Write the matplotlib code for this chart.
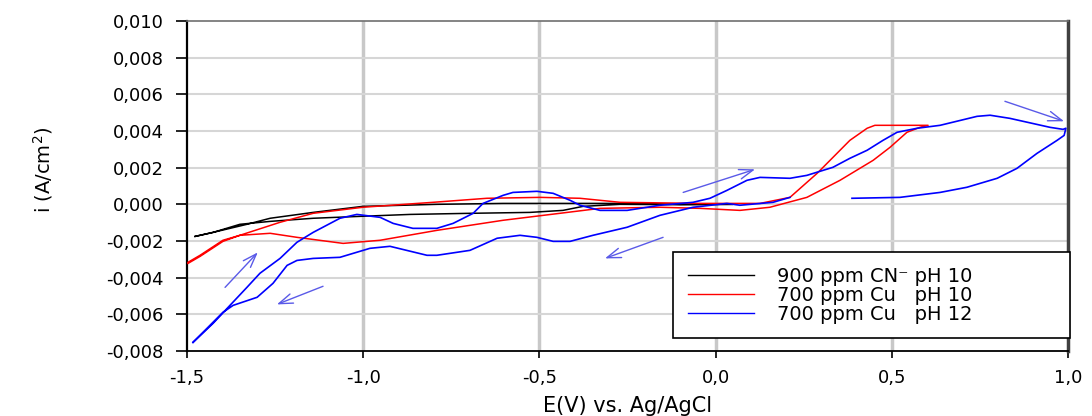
import numpy as np
import matplotlib
matplotlib.use("Agg")
import matplotlib.pyplot as plt
from matplotlib.lines import Line2D

plt.rcParams['font.family'] = ['DejaVu Sans']
plt.rcParams['mathtext.default'] = 'regular'

# ---- data (E in V vs Ag/AgCl, i in mA/cm2) ----
black_E = [-1.477, -1.426, -1.330, -1.264, -1.142, -1.001, -0.791, -0.603, -0.413, -0.271,
           -0.101, 0.049, -0.101, -0.271, -0.376, -0.433, -0.527, -0.697, -0.867, -1.001,
           -1.142, -1.264, -1.350, -1.426, -1.477]
black_i_mA = [-1.75, -1.53, -1.09, -0.76, -0.44, -0.11, 0.00, 0.05, 0.05, 0.05,
              0.00, 0.00, -0.02, 0.00, -0.11, -0.33, -0.44, -0.49, -0.55, -0.65,
              -0.76, -0.93, -1.09, -1.53, -1.75]

red_E = [-1.497, -1.463, -1.398, -1.350, -1.236, -1.142, -1.001, -0.802, -0.649, -0.498,
         -0.385, -0.271, -0.044, 0.126, 0.211, 0.288, 0.333, 0.381, 0.430, 0.452,
         0.603, 0.580, 0.543, 0.495, 0.447, 0.353, 0.259, 0.154, 0.069, -0.044,
         -0.158, -0.328, -0.442, -0.603, -0.791, -0.952, -1.057, -1.188, -1.264, -1.350,
         -1.398, -1.463, -1.497]
red_i_mA = [-3.16, -2.78, -1.96, -1.69, -0.98, -0.49, -0.16, 0.11, 0.33, 0.38,
            0.33, 0.11, 0.05, 0.05, 0.38, 1.69, 2.56, 3.49, 4.15, 4.31,
            4.31, 4.20, 3.93, 3.11, 2.40, 1.31, 0.38, -0.16, -0.33, -0.22,
            -0.16, -0.22, -0.49, -0.87, -1.42, -1.96, -2.13, -1.80, -1.58, -1.69,
            -2.02, -2.84, -3.22]

blue_E = [-1.483, -1.426, -1.378, -1.330, -1.293, -1.236, -1.188, -1.142, -1.066, -1.018,
          -0.952, -0.915, -0.859, -0.791, -0.745, -0.688, -0.660, -0.603, -0.575, -0.507,
          -0.461, -0.413, -0.385, -0.328, -0.251, -0.158, -0.064, -0.016, 0.032, 0.089,
          0.126, 0.211, 0.259, 0.333, 0.381, 0.430, 0.475, 0.515, 0.572, 0.637,
          0.742, 0.779, 0.835, 0.949, 0.986, 0.994,
          0.989, 0.969, 0.912, 0.855, 0.799, 0.713, 0.637, 0.523, 0.387,
          np.nan,
          0.211, 0.163, 0.069, 0.032, -0.064, -0.158, -0.251, -0.348, -0.413, -0.461,
          -0.507, -0.555, -0.620, -0.697, -0.791, -0.819, -0.924, -0.981, -1.066, -1.142,
          -1.188, -1.216, -1.256, -1.301, -1.369, -1.398, -1.483]
blue_i_mA = [-7.53, -6.49, -5.51, -4.53, -3.76, -2.95, -2.07, -1.53, -0.76, -0.55,
             -0.71, -1.04, -1.31, -1.31, -1.04, -0.49, 0.05, 0.49, 0.65, 0.71,
             0.60, 0.22, -0.05, -0.33, -0.33, -0.05, 0.11, 0.33, 0.76, 1.31,
             1.47, 1.42, 1.58, 2.02, 2.51, 2.95, 3.49, 3.93, 4.15, 4.31,
             4.80, 4.86, 4.69, 4.20, 4.09, 4.15,
             3.76, 3.49, 2.78, 1.96, 1.42, 0.93, 0.65, 0.38, 0.33,
             np.nan,
             0.38, 0.11, -0.05, 0.05, -0.16, -0.60, -1.25, -1.69, -2.02, -2.02,
             -1.80, -1.69, -1.85, -2.51, -2.78, -2.78, -2.29, -2.40, -2.89, -2.95,
             -3.06, -3.33, -4.31, -5.07, -5.51, -5.89, -7.53]

labels = ["900 ppm CN\u207b pH 10", "700 ppm Cu   pH 10", "700 ppm Cu   pH 12"]
colors = ["#000000", "#ff0000", "#0000ff"]

# scan-direction arrows: (tail E, tail i mA) -> (tip E, tip i mA)
arrows = [((-1.392, -4.53), (-1.299, -2.62)),
          ((-1.114, -4.47), (-1.245, -5.46)),
          ((-0.092, 0.65), (0.112, 1.91)),
          ((-0.149, -1.80), (-0.314, -2.95)),
          ((0.821, 5.62), (0.989, 4.53))]

x_ticks = [-1.5, -1.0, -0.5, 0.0, 0.5, 1.0]
x_ticklabels = ["-1,5", "-1,0", "-0,5", "0,0", "0,5", "1,0"]
y_ticks = [-0.008, -0.006, -0.004, -0.002, 0.000, 0.002, 0.004, 0.006, 0.008, 0.010]
y_ticklabels = ["-0,008", "-0,006", "-0,004", "-0,002", "0,000", "0,002", "0,004",
                "0,006", "0,008", "0,010"]

# ---- figure ----
fig = plt.figure(figsize=(10.92, 4.16), dpi=100)
ax = fig.add_axes([187 / 1092, 1 - 351 / 416, 881 / 1092, 330 / 416])

ax.set_xlim(-1.5, 1.0)
ax.set_ylim(-0.008, 0.010)

# grid
for xv in x_ticks[1:-1]:
    ax.axvline(xv, color="#c8c8c8", lw=2.5, zorder=0)
for yv in y_ticks[1:-1]:
    ax.axhline(yv, color="#d6d6d6", lw=1.5, zorder=0)

mA = 1e-3
ax.plot(black_E, np.array(black_i_mA) * mA, color=colors[0], lw=1.1, zorder=3)
ax.plot(red_E, np.array(red_i_mA) * mA, color=colors[1], lw=1.1, zorder=3)
ax.plot(blue_E, np.array(blue_i_mA) * mA, color=colors[2], lw=1.2, zorder=4)

for (t, h) in arrows:
    ax.annotate("", xy=(h[0], h[1] * mA), xytext=(t[0], t[1] * mA),
                arrowprops=dict(arrowstyle="->,head_length=1.0,head_width=0.35",
                                color="#5a5ae8", lw=1.0, shrinkA=0, shrinkB=0),
                zorder=5)

ax.set_xticks(x_ticks)
ax.set_xticklabels(x_ticklabels)
ax.set_yticks(y_ticks)
ax.set_yticklabels(y_ticklabels)
ax.tick_params(axis="y", direction="out", length=8, width=1.2, pad=9, labelsize=13,
               colors="#000000")
ax.tick_params(axis="x", direction="out", length=5, width=1.2, pad=8, labelsize=13)

ax.spines["left"].set_linewidth(1.6)
ax.spines["bottom"].set_linewidth(1.3)
ax.spines["top"].set_color("#707070")
ax.spines["top"].set_linewidth(1.2)
ax.spines["right"].set_color("#404040")
ax.spines["right"].set_linewidth(2.5)

ax.set_xlabel("E(V) vs. Ag/AgCl", fontsize=15)
ax.set_ylabel("i (A/cm$^{2}$)", fontsize=14)
ax.xaxis.set_label_coords(0.5, -0.135)
ax.yaxis.set_label_coords(-0.15, 0.55)

handles = [Line2D([], [], color=c, lw=1.0) for c in colors]
leg = ax.legend(handles, labels, loc="lower left",
                bbox_to_anchor=(0.5517, 0.039, 0.451, 0.246), mode="expand",
                borderaxespad=0, fontsize=14, handlelength=3.4, handletextpad=1.2,
                labelspacing=0.0, borderpad=0.75, fancybox=False, framealpha=1,
                edgecolor="#000000")
leg.get_frame().set_linewidth(1.2)
leg.set_zorder(10)

fig.savefig("out.png", dpi=100)
